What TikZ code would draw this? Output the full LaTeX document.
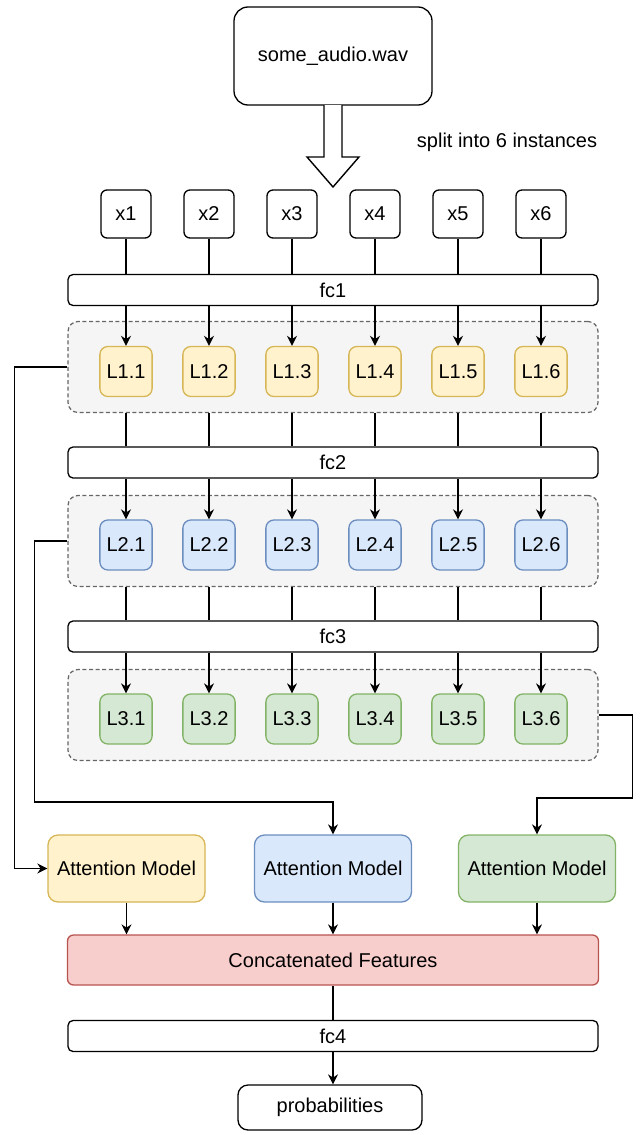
\documentclass[tikz,border=0pt]{standalone}
\usepackage{fontspec}
\setmainfont{Liberation Sans}
\usetikzlibrary{positioning,arrows.meta}

\definecolor{yelfill}{HTML}{FFF2CC}
\definecolor{yeldraw}{HTML}{D6B656}
\definecolor{blufill}{HTML}{DAE8FC}
\definecolor{bludraw}{HTML}{6C8EBF}
\definecolor{grnfill}{HTML}{D5E8D4}
\definecolor{grndraw}{HTML}{82B366}
\definecolor{redfill}{HTML}{F8CECC}
\definecolor{reddraw}{HTML}{B85450}
\definecolor{grpfill}{HTML}{F5F5F5}
\definecolor{grpdraw}{HTML}{666666}

\begin{document}
\begin{tikzpicture}[
    x=0.5pt, y=-0.5pt,
    font=\fontsize{10}{12}\selectfont,
    box/.style={draw, rounded corners=3pt, align=center, line width=0.65pt},
    inbox/.style={box, minimum width=25pt, minimum height=24pt},
    fcbox/.style={box, rounded corners=2.5pt, minimum width=265pt, minimum height=15.5pt},
    grp/.style={draw=grpdraw, fill=grpfill, dash pattern=on 2pt off 1.3pt, rounded corners=5pt, minimum width=265pt, minimum height=45.5pt, line width=0.6pt},
    lay/.style={box, rounded corners=4pt, minimum size=25pt},
    att/.style={box, rounded corners=5pt, minimum width=78.5pt, minimum height=33.5pt},
    lin/.style={line width=0.7pt},
    arr/.style={lin, -{Stealth[length=5pt, width=5pt, inset=1.6pt]}}
]
\useasboundingbox (0,0) rectangle (639,1135);

% input and splitting
\node[box, rounded corners=7pt, minimum width=99pt, minimum height=49pt] (audio) at (333,56) {some\_audio.wav};
\draw[lin, fill=white] (324,105) -- (324,157) -- (307,157) -- (333,187) -- (359,157) -- (342,157) -- (342,105);
\node (split) at (507,142) {split into 6 instances};

% layer groups
\node[grp] (ga) at (333,367) {};
\node[grp] (gb) at (333,541) {};
\node[grp] (gc) at (333,715) {};

\node[fcbox] (fc1) at (333,290) {fc1};
\node[fcbox] (fc2) at (333,462.5) {fc2};
\node[fcbox] (fc3) at (333,636.5) {fc3};

\foreach \i [evaluate=\i as \xx using 126+83*(\i-1)] in {1,...,6} {
    \node[inbox] (in\i) at (\xx,214) {x\i};
    \node[lay, fill=yelfill, draw=yeldraw] (la\i) at (\xx,371.5) {L1.\i};
    \node[lay, fill=blufill, draw=bludraw] (lb\i) at (\xx,545) {L2.\i};
    \node[lay, fill=grnfill, draw=grndraw] (lc\i) at (\xx,719) {L3.\i};
    \draw[lin] (in\i.south) -- (in\i.south |- fc1.north);
    \draw[arr] (la\i.north |- fc1.south) -- (la\i.north);
    \draw[lin] (la\i.south |- ga.south) -- (la\i.south |- fc2.north);
    \draw[arr] (lb\i.north |- fc2.south) -- (lb\i.north);
    \draw[lin] (lb\i.south |- gb.south) -- (lb\i.south |- fc3.north);
    \draw[arr] (lc\i.north |- fc3.south) -- (lc\i.north);
}

% attention and output
\node[att, fill=yelfill, draw=yeldraw] (attA) at (126.5,868.5) {Attention Model};
\node[att, fill=blufill, draw=bludraw] (attB) at (333,868.5) {Attention Model};
\node[att, fill=grnfill, draw=grndraw] (attC) at (537,868.5) {Attention Model};
\node[box, fill=redfill, draw=reddraw, minimum width=265.5pt, minimum height=25pt] (cat) at (333,960) {Concatenated Features};
\node[fcbox] (fc4) at (333,1036) {fc4};
\node[box, rounded corners=5pt, minimum width=92pt, minimum height=22.5pt] (prob) at (330,1107.5) {probabilities};

\draw[arr] (ga.west) -- ++(-53,0) |- (attA.west);
\draw[arr] (gb.west) -- ++(-33,0) -- ++(0,261) -| (attB.north);
\draw[arr] (gc.east) -- ++(34,0) -- ++(0,83) -| (attC.north);
\draw[arr] (attA.south) -- (attA.south |- cat.north);
\draw[arr] (attB.south) -- (attB.south |- cat.north);
\draw[arr] (attC.south) -- (attC.south |- cat.north);
\draw[lin] (cat.south) -- (cat.south |- fc4.north);
\draw[arr] (fc4.south) -- (fc4.south |- prob.north);
\end{tikzpicture}
\end{document}
